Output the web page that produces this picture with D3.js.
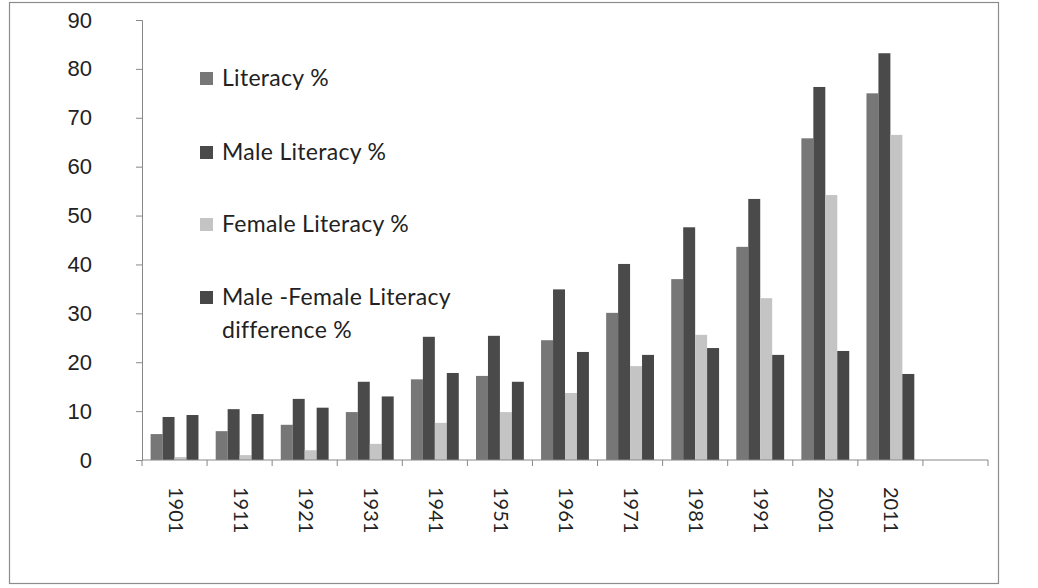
<!DOCTYPE html>
<html>
<head>
<meta charset="utf-8">
<script src="https://cdn.jsdelivr.net/npm/d3@7"></script>
<style>
  body { margin: 0; background: #fff; }
  svg { display: block; font-family: Lato, "Open Sans", sans-serif; }
  .ax text { fill: #222; }
</style>
</head>
<body>
<svg id="chart"></svg>
<script>
// census years, plus one empty slot at the end like the original
var years = ["1901", "1911", "1921", "1931", "1941", "1951", "1961", "1971", "1981", "1991", "2001", "2011"];
var seriesNames = ["Literacy %", "Male Literacy %", "Female Literacy %", "Male -Female Literacy difference %"];
var literacy = [5.3, 5.9, 7.2, 9.8, 16.5, 17.2, 24.5, 30.1, 37.0, 43.6, 65.8, 75.0];
var maleLiteracy = [8.8, 10.4, 12.5, 16.0, 25.2, 25.4, 34.9, 40.1, 47.6, 53.4, 76.3, 83.2];
var femaleLiteracy = [0.6, 1.0, 2.0, 3.3, 7.6, 9.8, 13.7, 19.2, 25.6, 33.1, 54.2, 66.5];
var mfDifference = [9.2, 9.4, 10.7, 13.0, 17.8, 16.0, 22.1, 21.5, 22.9, 21.5, 22.3, 17.6];
var yTicks = [0, 10, 20, 30, 40, 50, 60, 70, 80, 90];

var seriesValues = [literacy, maleLiteracy, femaleLiteracy, mfDifference];
var colors = ["#777777", "#4a4a4a", "#c4c4c4", "#474747"];

var width = 1038, height = 588;
var svg = d3.select("#chart").attr("width", width).attr("height", height);

// outer frame of the chart area
svg.append("rect")
    .attr("x", 9.5).attr("y", 2.5)
    .attr("width", 989).attr("height", 581)
    .attr("fill", "none")
    .attr("stroke", "#8c8c8c")
    .attr("stroke-width", 1.2);

var slots = years.concat([""]);
var x = d3.scaleBand().domain(slots).range([142, 988]).padding(0);
var xs = d3.scaleBand().domain(d3.range(seriesNames.length))
    .range([0, x.bandwidth()]).paddingInner(0).paddingOuter(0.72);
var y = d3.scaleLinear().domain([0, 90]).range([460, 20]);

var rows = years.map(function(yr, i) {
    return { year: yr, vals: seriesValues.map(function(s) { return s[i]; }) };
});

var groups = svg.append("g").selectAll("g")
    .data(rows)
    .enter().append("g")
    .attr("transform", function(d) { return "translate(" + x(d.year) + ",0)"; });

groups.selectAll("rect")
    .data(function(d) { return d.vals; })
    .enter().append("rect")
    .attr("x", function(d, i) { return xs(i); })
    .attr("y", function(d) { return y(d); })
    .attr("width", xs.bandwidth())
    .attr("height", function(d) { return y(0) - y(d); })
    .attr("fill", function(d, i) { return colors[i]; });

// y axis
var yAxis = svg.append("g")
    .attr("class", "ax")
    .attr("transform", "translate(142,0)")
    .call(d3.axisLeft(y).tickValues(yTicks).tickSize(6).tickPadding(44));
yAxis.select(".domain").attr("stroke", "#888");
yAxis.selectAll(".tick line").attr("stroke", "#888");
yAxis.selectAll("text").style("font-size", "22px").attr("text-anchor", "end");

// x axis: ticks sit between categories, labels rotated
var xAxis = svg.append("g").attr("class", "ax");
xAxis.append("line")
    .attr("x1", 142).attr("x2", 988)
    .attr("y1", y(0)).attr("y2", y(0))
    .attr("stroke", "#888");
xAxis.selectAll(".xt")
    .data(slots.concat(["end"]))
    .enter().append("line")
    .attr("x1", function(d) { return d === "end" ? x.range()[1] : x(d); })
    .attr("x2", function(d) { return d === "end" ? x.range()[1] : x(d); })
    .attr("y1", y(0)).attr("y2", y(0) + 6)
    .attr("stroke", "#888");
xAxis.selectAll(".xl")
    .data(years)
    .enter().append("text")
    .attr("transform", function(d) {
        return "translate(" + (x(d) + x.bandwidth() / 2 + 1) + "," + 487 + ") rotate(90)";
    })
    .attr("text-anchor", "start")
    .attr("dy", "0.35em")
    .style("font-size", "20px")
    .text(function(d) { return d; });

// legend
var legendY = [78, 152, 224, 297];
var legend = svg.append("g").attr("class", "ax");
seriesNames.forEach(function(name, i) {
    legend.append("rect")
        .attr("x", 200).attr("y", legendY[i] - 6)
        .attr("width", 13).attr("height", 13)
        .attr("fill", colors[i]);
    var t = legend.append("text")
        .attr("x", 222).attr("y", legendY[i])
        .attr("dy", "0.35em")
        .style("font-size", "23px")
        .style("letter-spacing", "0.3px");
    if (i === 3) {
        t.text("Male -Female Literacy");
        legend.append("text")
            .attr("x", 222).attr("y", legendY[i] + 33)
            .attr("dy", "0.35em")
            .style("font-size", "23px")
            .style("letter-spacing", "0.3px")
            .text("difference %");
    } else {
        t.text(name);
    }
});
</script>
</body>
</html>
